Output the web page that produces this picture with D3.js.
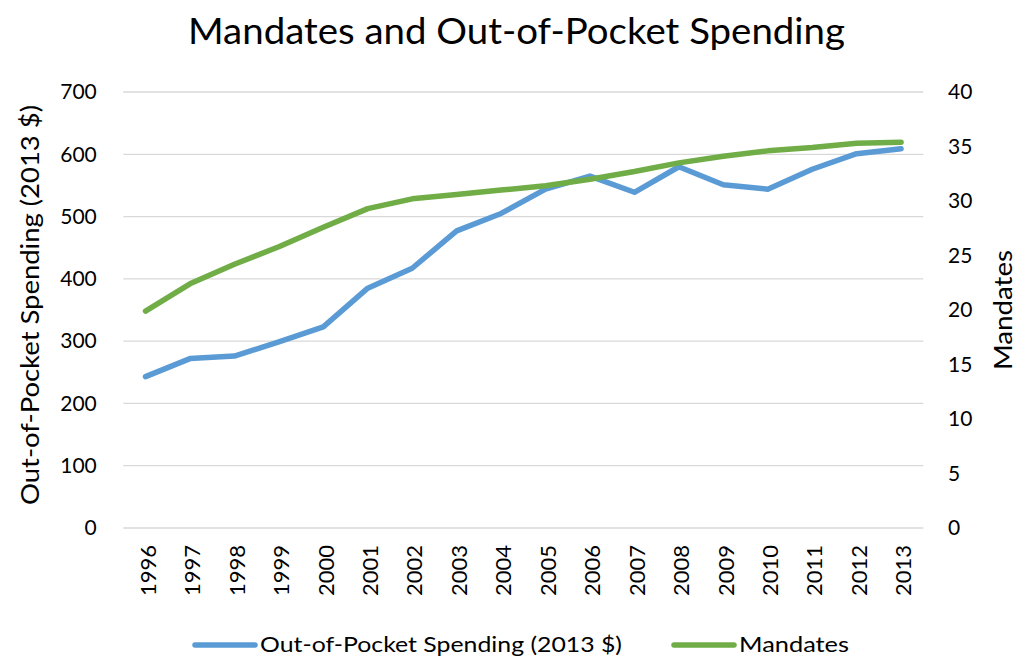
<!DOCTYPE html>
<html><head><meta charset="utf-8">
<script src="https://cdn.jsdelivr.net/npm/d3@7"></script>
<style>body{margin:0;background:#fff;} text{font-family:Lato,"Open Sans",sans-serif;fill:#000;}</style>
</head><body><svg id="c" width="1031" height="657"></svg>
<script>
const years = [1996,1997,1998,1999,2000,2001,2002,2003,2004,2005,2006,2007,2008,2009,2010,2011,2012,2013];
const spending = [243,272,276,299,323,385,417,477,505,544,565,539,580,551,544,576,601,609];
const mandates = [19.9,22.4,24.2,25.8,27.6,29.3,30.2,30.6,31.0,31.4,32.0,32.7,33.5,34.1,34.6,34.9,35.3,35.4];
const leftTicks = [0,100,200,300,400,500,600,700];
const rightTicks = [0,5,10,15,20,25,30,35,40];
const titleText = "Mandates and Out-of-Pocket Spending";
const leftTitle = "Out-of-Pocket Spending (2013 $)";
const rightTitle = "Mandates";
const seriesNames = ["Out-of-Pocket Spending (2013 $)","Mandates"];
const colors = ["#5B9BD5","#70AD47"];

const svg = d3.select("#c");
const L=123.3, R=923.3, T=92, B=528;
const FF = "Lato,'Open Sans',sans-serif";
const x = d3.scalePoint().domain(years).range([L,R]).padding(0.5);
const yL = d3.scaleLinear().domain([0,700]).range([B,T]);
const yR = d3.scaleLinear().domain([0,40]).range([B,T]);

// gridlines
svg.append("g").selectAll("line").data(leftTicks).join("line")
  .attr("x1",L).attr("x2",R).attr("y1",d=>yL(d)).attr("y2",d=>yL(d))
  .attr("stroke","#D9D9D9").attr("stroke-width",1.3);

// left axis labels
const gl = svg.append("g").attr("transform",`translate(${L},0)`)
  .call(d3.axisLeft(yL).tickValues(leftTicks).tickSize(0).tickPadding(26.5));
gl.select(".domain").remove();
gl.selectAll("text").style("font-size","21px").style("font-family",FF);

const gr = svg.append("g").attr("transform",`translate(${R},0)`)
  .call(d3.axisRight(yR).tickValues(rightTicks).tickSize(0).tickPadding(24.7));
gr.select(".domain").remove();
gr.selectAll("text").style("font-size","21px").style("font-family",FF);

// x axis labels rotated
const gx = svg.append("g").attr("transform",`translate(0,${B})`)
  .call(d3.axisBottom(x).tickSize(0).tickFormat(d3.format("d")));
gx.select(".domain").remove();
gx.selectAll("text").style("font-size","22px").style("font-family",FF)
  .attr("transform","rotate(-90)").attr("text-anchor","end").attr("x",-17).attr("y",2).attr("dy","0.35em");

// lines
const lineL = d3.line().x((d,i)=>x(years[i])).y(d=>yL(d));
const lineR = d3.line().x((d,i)=>x(years[i])).y(d=>yR(d));
svg.append("path").datum(spending).attr("d",lineL).attr("fill","none")
  .attr("stroke",colors[0]).attr("stroke-width",5.5).attr("stroke-linejoin","round").attr("stroke-linecap","round");
svg.append("path").datum(mandates).attr("d",lineR).attr("fill","none")
  .attr("stroke",colors[1]).attr("stroke-width",5.5).attr("stroke-linejoin","round").attr("stroke-linecap","round");

// title
svg.append("text").attr("x",188).attr("y",44)
  .attr("textLength",657).attr("lengthAdjust","spacingAndGlyphs")
  .style("font-size","36px").text(titleText);

// axis titles
svg.append("text").attr("transform","translate(39,505) rotate(-90)")
  .attr("textLength",400).attr("lengthAdjust","spacingAndGlyphs")
  .style("font-size","25px").text(leftTitle);
svg.append("text").attr("transform","translate(1012,370) rotate(-90)")
  .attr("textLength",120).attr("lengthAdjust","spacingAndGlyphs")
  .style("font-size","25px").text(rightTitle);

// legend
const legX = [193, 672];
const legW = [362, 110];
const lg = svg.append("g");
seriesNames.forEach((n,i)=>{
  lg.append("line").attr("x1",legX[i]+2).attr("x2",legX[i]+62).attr("y1",645).attr("y2",645)
    .attr("stroke",colors[i]).attr("stroke-width",5.5).attr("stroke-linecap","round");
  lg.append("text").attr("x",legX[i]+67).attr("y",652)
    .attr("textLength",legW[i]).attr("lengthAdjust","spacingAndGlyphs")
    .style("font-size","21px").text(n);
});
</script></body></html>
